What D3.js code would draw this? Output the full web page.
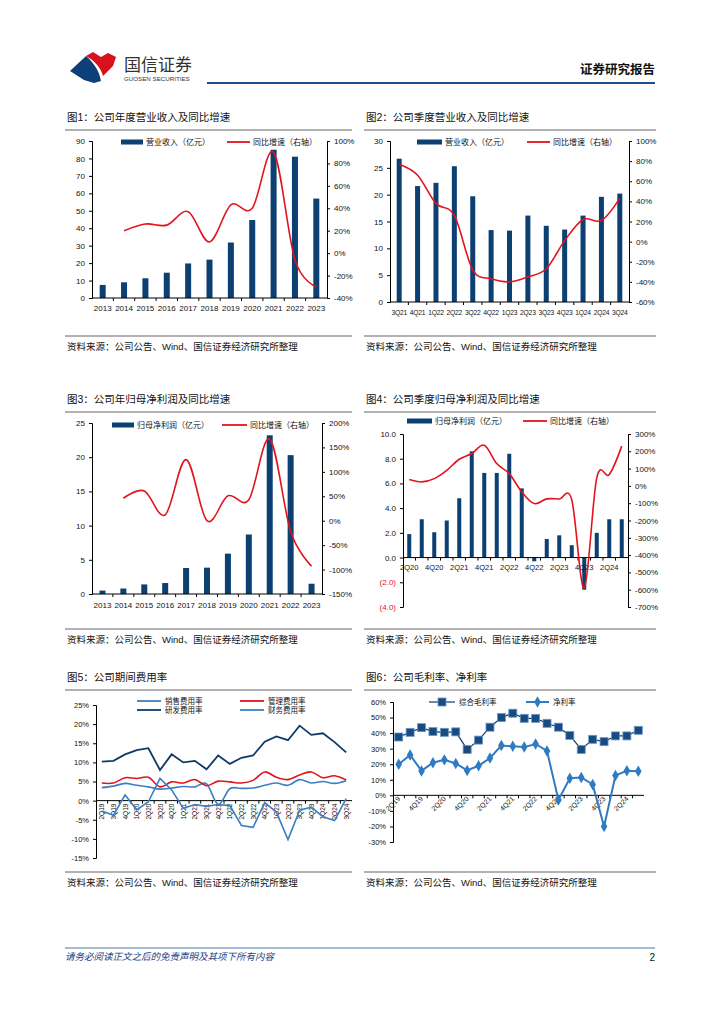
<!DOCTYPE html>
<html><head><meta charset="utf-8">
<script src="https://cdn.jsdelivr.net/npm/d3@7"></script>
<style>
body{margin:0;background:#fff}
svg{display:block}
text{font-family:"Liberation Sans",Arial,"Noto Sans CJK SC",sans-serif}
</style>
</head><body>
<svg id="page" width="724" height="1024"></svg>
<script>
// ---------------- DATA ----------------
const years = ["2013","2014","2015","2016","2017","2018","2019","2020","2021","2022","2023"];
const annualRevenue = [7.5, 9.0, 11.3, 14.5, 19.8, 22.0, 31.8, 44.7, 85.0, 81.0, 57.0];
const annualRevenueYoY = [null, 0.20, 0.26, 0.25, 0.37, 0.10, 0.43, 0.40, 0.90, -0.06, -0.30];

const quarters2 = ["3Q21","4Q21","1Q22","2Q22","3Q22","4Q22","1Q23","2Q23","3Q23","4Q23","1Q24","2Q24","3Q24"];
const quarterRevenue = [26.7, 21.6, 22.2, 25.3, 19.7, 13.4, 13.3, 16.1, 14.2, 13.5, 16.1, 19.6, 20.2];
const quarterRevenueYoY = [0.77, 0.66, 0.38, 0.26, -0.28, -0.37, -0.40, -0.35, -0.27, 0.01, 0.22, 0.21, 0.43];

const annualProfit = [0.5, 0.8, 1.4, 1.6, 3.8, 3.85, 5.9, 8.7, 23.2, 20.3, 1.5];
const annualProfitYoY = [null, 0.46, 0.61, 0.12, 1.25, 0.00, 0.51, 0.43, 1.67, -0.22, -0.93];

const quarters4 = ["2Q20","3Q20","4Q20","1Q21","2Q21","3Q21","4Q21","1Q22","2Q22","3Q22","4Q22","1Q23","2Q23","3Q23","4Q23","1Q24","2Q24","3Q24"];
const quarterProfit = [1.9, 3.1, 2.05, 3.0, 4.8, 8.6, 6.85, 6.85, 8.4, 5.6, -0.3, 1.5, 1.8, 1.0, -2.6, 2.0, 3.1, 3.1];
const quarterProfitYoY = [0.37, 0.23, 0.42, 0.90, 1.54, 1.87, 2.35, 1.29, 0.71, -0.35, -1.02, -0.75, -0.76, -0.80, -5.90, 0.46, 0.66, 2.30];

const quarters5 = ["2Q19","3Q19","4Q19","1Q20","2Q20","3Q20","4Q20","1Q21","2Q21","3Q21","4Q21","1Q22","2Q22","3Q22","4Q22","1Q23","2Q23","3Q23","4Q23","1Q24","2Q24","3Q24"];
const sellingRate = [3.4, 3.8, 4.5, 4.0, 3.6, 3.0, 3.3, 3.7, 3.6, 4.4, -1.0, 3.1, 3.2, 3.3, 4.0, 4.6, 4.0, 5.5, 4.6, 5.0, 4.5, 5.2];
const adminRate = [4.6, 4.6, 6.0, 5.8, 6.1, 3.6, 4.9, 4.6, 5.5, 3.9, 5.1, 4.9, 4.6, 5.3, 7.5, 6.1, 5.5, 6.7, 7.5, 6.0, 6.5, 5.4];
const rdRate = [10.2, 10.4, 12.1, 13.2, 13.7, 8.0, 12.1, 10.0, 10.4, 8.2, 11.8, 9.6, 11.2, 11.8, 15.4, 16.8, 15.8, 19.6, 17.2, 17.6, 15.3, 12.6];
const financeRate = [-2.7, -3.8, 1.5, -2.4, -0.3, 5.8, 2.8, -2.0, -1.0, -1.5, -1.0, -1.3, -6.5, -7.0, -0.5, -3.0, -10.2, -2.5, -1.7, -4.2, -5.2, 0.5];

const quarters6 = quarters5;
const grossMargin = [37.5, 40.5, 43.5, 41.0, 40.5, 40.8, 29.5, 35.5, 43.8, 50.0, 52.8, 49.5, 49.5, 46.3, 43.8, 38.5, 29.5, 36.0, 34.5, 38.2, 38.2, 41.8];
const netMargin = [20.0, 26.0, 15.7, 21.0, 22.8, 20.5, 16.0, 19.0, 24.0, 32.0, 31.5, 31.0, 33.0, 28.5, -3.0, 11.0, 11.5, 7.0, -20.0, 12.8, 15.8, 15.5];

const ticks1L = [0,10,20,30,40,50,60,70,80,90];
const ticks1R = [-0.4,-0.2,0,0.2,0.4,0.6,0.8,1.0];
const ticks2L = [0,5,10,15,20,25,30];
const ticks2R = [-0.6,-0.4,-0.2,0,0.2,0.4,0.6,0.8,1.0];
const ticks3L = [0,5,10,15,20,25];
const ticks3R = [-1.5,-1,-0.5,0,0.5,1,1.5,2];
const ticks4L = [-4,-2,0,2,4,6,8,10];
const ticks4R = [-7,-6,-5,-4,-3,-2,-1,0,1,2,3];
const ticks5 = [-15,-10,-5,0,5,10,15,20,25];
const ticks6 = [-30,-20,-10,0,10,20,30,40,50,60];

// ---------------- STYLE ----------------
const NAVY = "#0c3f72";
const RED = "#e1141e";
const LBLUE = "#3b7fc4";
const CJK = '"Noto Sans CJK SC","Liberation Sans",sans-serif';
const LAT = '"Liberation Sans",Arial,sans-serif';

const svg = d3.select("#page");

// ---------------- HEADER ----------------
svg.append("path").attr("d","M70,71 L86,56 C93,62 99,70 101,81 L94,83 L84,80 Z").attr("fill","#0d3f78");
svg.append("path").attr("d","M86,56 L93,52 L101,57 L108,53 L116,57 L113,66 L103,76 C101,68 95,61 86,56 Z").attr("fill","#d7121c");
svg.append("text").attr("x",124).attr("y",71).attr("font-family",CJK).attr("font-size",17).attr("fill","#333").text("国信证券");
svg.append("text").attr("x",124).attr("y",81).attr("font-family",LAT).attr("font-size",6.2).attr("fill","#333").text("GUOSEN SECURITIES");
svg.append("text").attr("x",655).attr("y",74).attr("text-anchor","end").attr("font-family",CJK).attr("font-weight","bold").attr("font-size",12.5).attr("fill","#111").text("证券研究报告");
svg.append("line").attr("x1",207).attr("x2",655).attr("y1",83).attr("y2",83).attr("stroke","#1f4e8c").attr("stroke-width",2);

// ---------------- FOOTER ----------------
svg.append("line").attr("x1",65).attr("x2",655).attr("y1",948).attr("y2",948).attr("stroke","#4a7aaa").attr("stroke-width",1);
svg.append("text").attr("x",65).attr("y",960).attr("font-family",CJK).attr("font-style","italic").attr("font-size",9.5).attr("fill","#1f3f7f").text("请务必阅读正文之后的免责声明及其项下所有内容");
svg.append("text").attr("x",655).attr("y",961).attr("text-anchor","end").attr("font-family",LAT).attr("font-size",10).attr("fill","#111").text("2");

// ---------------- PANEL FRAME ----------------
function frame(x0, x1, titleY, titleText, srcY) {
  svg.append("text").attr("x",x0+2).attr("y",titleY).attr("font-family",CJK).attr("font-size",10.5).attr("fill","#111").text(titleText);
  svg.append("line").attr("x1",x0).attr("x2",x1).attr("y1",titleY+9).attr("y2",titleY+9).attr("stroke","#666").attr("stroke-width",1.2);
  svg.append("line").attr("x1",x0).attr("x2",x1).attr("y1",srcY).attr("y2",srcY).attr("stroke","#666").attr("stroke-width",1.2);
  svg.append("text").attr("x",x0+2).attr("y",srcY+14).attr("font-family",CJK).attr("font-size",9.5).attr("fill","#111").text("资料来源：公司公告、Wind、国信证券经济研究所整理");
}

function styleAxis(g, size) {
  g.attr("font-family", LAT).attr("font-size", size || 8);
  g.selectAll(".domain").attr("stroke","#000");
  g.selectAll(".tick line").attr("stroke","#000");
  g.selectAll(".tick text").attr("fill","#111");
}

const smooth = d3.curveCardinal.tension(0);

// ---------------- COMBO CHART ----------------
function combo(o) {
  const g = svg.append("g");
  const x = d3.scaleBand().domain(o.cats).range([o.x0, o.x1]);
  const yL = d3.scaleLinear().domain(o.leftDomain).range([o.yBot, o.yTop]);
  const yR = d3.scaleLinear().domain(o.rightDomain).range([o.yBot, o.yTop]);
  const cx = c => x(c) + x.bandwidth()/2;

  g.append("g").selectAll("rect").data(o.cats).join("rect")
    .attr("x", c => cx(c) - o.barW/2)
    .attr("width", o.barW)
    .attr("y", (c,i) => Math.min(yL(o.bars[i]), yL(0)))
    .attr("height", (c,i) => Math.abs(yL(o.bars[i]) - yL(0)))
    .attr("fill", NAVY);

  const aL = g.append("g").attr("transform",`translate(${o.x0},0)`)
    .call(d3.axisLeft(yL).tickValues(o.leftTicks).tickSize(3).tickPadding(4).tickFormat(o.leftFmt || (d=>d)));
  styleAxis(aL);
  if (o.negRed) aL.selectAll(".tick text").attr("fill", d => d < 0 ? RED : "#111");
  const aR = g.append("g").attr("transform",`translate(${o.x1},0)`)
    .call(d3.axisRight(yR).tickValues(o.rightTicks).tickSize(3).tickPadding(4).tickFormat(d => Math.round(d*100) + "%"));
  styleAxis(aR);
  const y0 = yL(0);
  g.append("line").attr("x1",o.x0).attr("x2",o.x1).attr("y1",y0).attr("y2",y0).attr("stroke","#000");
  g.append("g").selectAll("line").data(o.cats.slice(1)).join("line")
    .attr("x1", c => x(c)).attr("x2", c => x(c)).attr("y1", y0).attr("y2", y0+3).attr("stroke","#000");
  g.append("g").selectAll("text").data(o.cats).join("text")
    .attr("x", cx).attr("y", o.labelY).attr("text-anchor","middle")
    .attr("font-family",LAT).attr("font-size",o.labelSize || 8).attr("fill","#111")
    .attr("letter-spacing", o.labelSpacing || 0)
    .text((c,i) => (o.labelEvery ? (i % o.labelEvery === 0 ? c : "") : c));

  const pts = o.cats.map((c,i) => [cx(c), o.line[i]]);
  g.append("path").datum(pts)
    .attr("d", d3.line().defined(d => d[1] != null).x(d => d[0]).y(d => yR(d[1])).curve(smooth))
    .attr("fill","none").attr("stroke",RED).attr("stroke-width",1.6);

  const L = o.legend;
  g.append("rect").attr("x",L.bx).attr("y",L.y-2.5).attr("width",L.bw).attr("height",5).attr("fill",NAVY);
  g.append("text").attr("x",L.bx+L.bw+3).attr("y",L.y+3).attr("font-family",CJK).attr("font-size",8).attr("fill","#111").text(L.bText);
  g.append("line").attr("x1",L.lx).attr("x2",L.lx+L.lw).attr("y1",L.y).attr("y2",L.y).attr("stroke",RED).attr("stroke-width",1.8);
  g.append("text").attr("x",L.lx+L.lw+3).attr("y",L.y+3).attr("font-family",CJK).attr("font-size",8).attr("fill","#111").text(L.lText);
}

// Chart 1
frame(65, 352, 121, "图1：公司年度营业收入及同比增速", 336);
combo({cats: years, bars: annualRevenue, line: annualRevenueYoY,
  x0: 92, x1: 327, yTop: 141, yBot: 298, leftDomain: [0,90], rightDomain: [-0.4,1.0],
  leftTicks: ticks1L, rightTicks: ticks1R, barW: 6, labelY: 311,
  legend: {y: 142, bx: 121, bw: 22, bText: "营业收入（亿元）", lx: 227, lw: 23, lText: "同比增速（右轴）"}});

// Chart 2
frame(364, 656, 121, "图2：公司季度营业收入及同比增速", 336);
combo({cats: quarters2, bars: quarterRevenue, line: quarterRevenueYoY,
  x0: 390, x1: 629, yTop: 141, yBot: 302, leftDomain: [0,30], rightDomain: [-0.6,1.0],
  leftTicks: ticks2L, rightTicks: ticks2R, barW: 5, labelY: 315, labelSize: 6.7, labelSpacing: -0.2,
  legend: {y: 142, bx: 417, bw: 25, bText: "营业收入（亿元）", lx: 527, lw: 23, lText: "同比增速（右轴）"}});

// Chart 3
frame(65, 352, 403, "图3：公司年归母净利润及同比增速", 629);
combo({cats: years, bars: annualProfit, line: annualProfitYoY,
  x0: 92, x1: 322, yTop: 423, yBot: 594, leftDomain: [0,25], rightDomain: [-1.5,2.0],
  leftTicks: ticks3L, rightTicks: ticks3R, barW: 6, labelY: 608,
  legend: {y: 425, bx: 112, bw: 22, bText: "归母净利润（亿元）", lx: 222, lw: 25, lText: "同比增速（右轴）"}});

// Chart 4
frame(364, 656, 403, "图4：公司季度归母净利润及同比增速", 629);
combo({cats: quarters4, bars: quarterProfit, line: quarterProfitYoY,
  x0: 403, x1: 628, yTop: 434, yBot: 607, leftDomain: [-4,10], rightDomain: [-7,3],
  leftTicks: ticks4L, rightTicks: ticks4R, barW: 4, labelY: 570, labelEvery: 2, labelSize: 7.5, negRed: true,
  leftFmt: v => v < 0 ? `(${Math.abs(v).toFixed(1)})` : v.toFixed(1),
  legend: {y: 421, bx: 407, bw: 25, bText: "归母净利润（亿元）", lx: 523, lw: 24, lText: "同比增速（右轴）"}});

// ---------------- CHART 5 ----------------
frame(65, 352, 681, "图5：公司期间费用率", 872);
(function(){
  const g = svg.append("g");
  const x = d3.scaleBand().domain(quarters5).range([96, 352]);
  const y = d3.scaleLinear().domain([-15,25]).range([858, 705]);
  const cx = c => x(c) + x.bandwidth()/2;
  const aL = g.append("g").attr("transform","translate(96,0)")
    .call(d3.axisLeft(y).tickValues(ticks5).tickSize(3).tickPadding(4).tickFormat(d => d + "%"));
  styleAxis(aL, 7.5);
  const y0 = y(0);
  g.append("line").attr("x1",96).attr("x2",352).attr("y1",y0).attr("y2",y0).attr("stroke","#000");
  g.append("g").selectAll("line").data(quarters5.slice(1)).join("line")
    .attr("x1", c => x(c)).attr("x2", c => x(c)).attr("y1", y0).attr("y2", y0+3).attr("stroke","#000");
  g.append("g").selectAll("text").data(quarters5).join("text")
    .attr("transform", c => `translate(${cx(c)+2.5},${y0+3}) rotate(-90)`)
    .attr("text-anchor","end").attr("font-family",LAT).attr("font-size",6.5).attr("fill","#111").text(c => c);
  const series = [
    {v: sellingRate, c: LBLUE, curve: smooth, w: 1.6},
    {v: adminRate, c: RED, curve: smooth, w: 1.6},
    {v: rdRate, c: "#0d3a68", curve: d3.curveLinear, w: 1.8},
    {v: financeRate, c: LBLUE, curve: d3.curveLinear, w: 1.6}
  ];
  series.forEach(s => {
    g.append("path").datum(quarters5.map((c,i) => [cx(c), s.v[i]]))
      .attr("d", d3.line().x(d => d[0]).y(d => y(d[1])).curve(s.curve))
      .attr("fill","none").attr("stroke", s.c).attr("stroke-width", s.w);
  });
  const leg = [
    {x:137, y:701, c:LBLUE, t:"销售费用率"},
    {x:240, y:701, c:RED, t:"管理费用率"},
    {x:137, y:710, c:"#0d3a68", t:"研发费用率"},
    {x:240, y:710, c:LBLUE, t:"财务费用率"}
  ];
  leg.forEach(l => {
    g.append("line").attr("x1",l.x).attr("x2",l.x+24).attr("y1",l.y).attr("y2",l.y).attr("stroke",l.c).attr("stroke-width",1.8);
    g.append("text").attr("x",l.x+28).attr("y",l.y+3).attr("font-family",CJK).attr("font-size",7.5).attr("fill","#111").text(l.t);
  });
})();

// ---------------- CHART 6 ----------------
frame(364, 656, 681, "图6：公司毛利率、净利率", 872);
(function(){
  const g = svg.append("g");
  const x = d3.scaleBand().domain(quarters6).range([393, 644]);
  const y = d3.scaleLinear().domain([-30,60]).range([842, 702]);
  const cx = c => x(c) + x.bandwidth()/2;
  const aL = g.append("g").attr("transform","translate(393,0)")
    .call(d3.axisLeft(y).tickValues(ticks6).tickSize(3).tickPadding(4).tickFormat(d => d + "%"));
  styleAxis(aL, 7.5);
  const y0 = y(0);
  g.append("line").attr("x1",393).attr("x2",644).attr("y1",y0).attr("y2",y0).attr("stroke","#000");
  g.append("g").selectAll("line").data(quarters6.slice(1)).join("line")
    .attr("x1", c => x(c)).attr("x2", c => x(c)).attr("y1", y0).attr("y2", y0+3).attr("stroke","#000");
  g.append("g").selectAll("text").data(quarters6.filter((c,i) => i % 2 === 0)).join("text")
    .attr("transform", c => `translate(${cx(c)+2},${y0+4}) rotate(-45)`)
    .attr("text-anchor","end").attr("font-family",LAT).attr("font-size",7).attr("fill","#111").text(c => c);

  const line = d3.line().x(d => d[0]).y(d => y(d[1]));
  const gp = quarters6.map((c,i) => [cx(c), grossMargin[i]]);
  const np = quarters6.map((c,i) => [cx(c), netMargin[i]]);
  g.append("path").datum(gp).attr("d", line).attr("fill","none").attr("stroke","#0d3a68").attr("stroke-width",1.2);
  g.append("path").datum(np).attr("d", line).attr("fill","none").attr("stroke","#2f7bc2").attr("stroke-width",2);
  g.append("g").selectAll("rect").data(gp).join("rect")
    .attr("x", d => d[0]-4).attr("y", d => y(d[1])-4).attr("width",8).attr("height",8)
    .attr("fill","#174b82").attr("stroke","#6f97c4").attr("stroke-width",0.8);
  g.append("g").selectAll("path").data(np).join("path")
    .attr("d", d3.symbol().type(d3.symbolDiamond).size(38))
    .attr("transform", d => `translate(${d[0]},${y(d[1])})`).attr("fill","#2f7bc2");

  g.append("line").attr("x1",429).attr("x2",455).attr("y1",702).attr("y2",702).attr("stroke","#0d3a68").attr("stroke-width",1.2);
  g.append("rect").attr("x",438).attr("y",698).attr("width",8).attr("height",8).attr("fill","#174b82").attr("stroke","#6f97c4").attr("stroke-width",0.8);
  g.append("text").attr("x",459).attr("y",705).attr("font-family",CJK).attr("font-size",7.5).attr("fill","#111").text("综合毛利率");
  g.append("line").attr("x1",526).attr("x2",549).attr("y1",702).attr("y2",702).attr("stroke","#2f7bc2").attr("stroke-width",2);
  g.append("path").attr("d", d3.symbol().type(d3.symbolDiamond).size(38)).attr("transform","translate(537.5,702)").attr("fill","#2f7bc2");
  g.append("text").attr("x",553).attr("y",705).attr("font-family",CJK).attr("font-size",7.5).attr("fill","#111").text("净利率");
})();
</script>
</body></html>
